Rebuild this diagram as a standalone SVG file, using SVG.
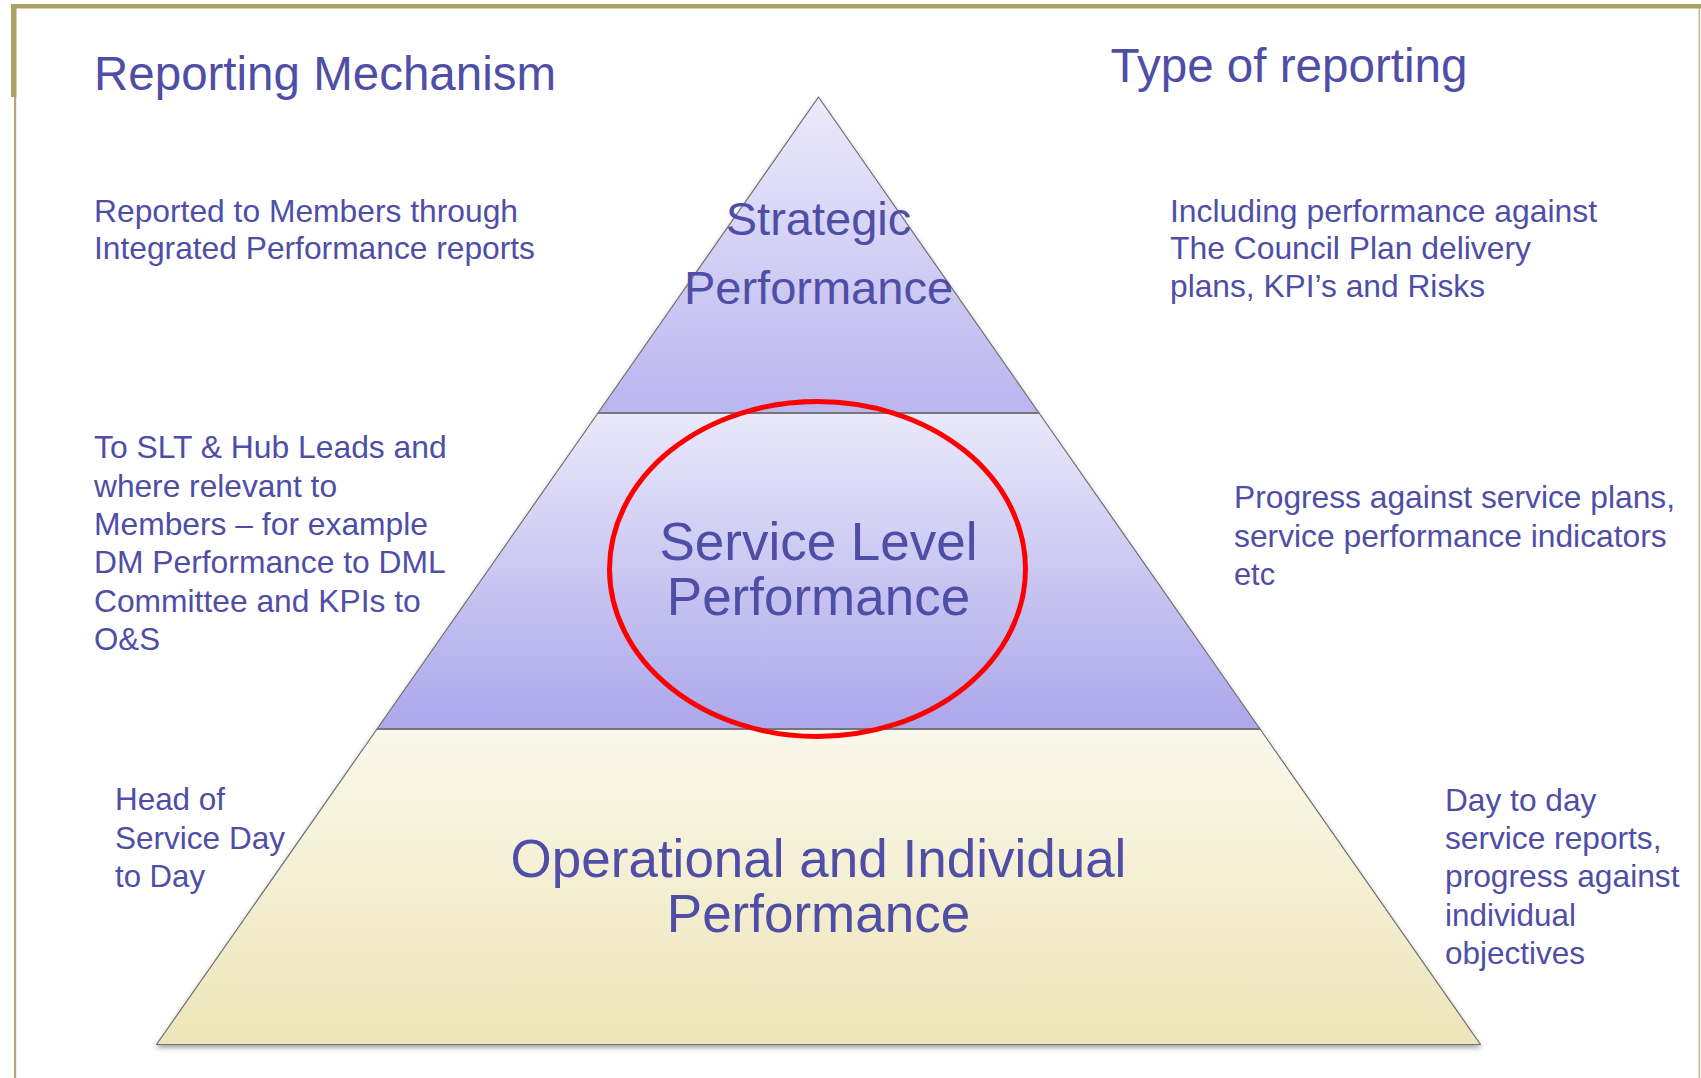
<svg xmlns="http://www.w3.org/2000/svg" width="1701" height="1078" viewBox="0 0 1701 1078">
  <style>
    .txt { font-family: "Liberation Sans", Arial, sans-serif; fill: #4F4EA7; }
    .title { font-size: 48px; }
    .body { font-size: 31.5px; }
    .tier { font-size: 53px; text-anchor: middle; }
    .tier-top { font-size: 47px; text-anchor: middle; }
    .edge { stroke: #707070; stroke-width: 1.2; stroke-linejoin: round; }
    .divider { stroke: #767676; stroke-width: 2.2; }
  </style>
  <defs>
    <linearGradient id="gTop" x1="0" y1="97" x2="0" y2="413" gradientUnits="userSpaceOnUse">
      <stop offset="0" stop-color="#ECEAFB"/>
      <stop offset="1" stop-color="#BAB5EF"/>
    </linearGradient>
    <linearGradient id="gMid" x1="0" y1="413" x2="0" y2="729" gradientUnits="userSpaceOnUse">
      <stop offset="0" stop-color="#EAE8FA"/>
      <stop offset="1" stop-color="#ABA7EB"/>
    </linearGradient>
    <linearGradient id="gBot" x1="0" y1="729" x2="0" y2="1045" gradientUnits="userSpaceOnUse">
      <stop offset="0" stop-color="#FAF8EC"/>
      <stop offset="1" stop-color="#EEE5B8"/>
    </linearGradient>
    <filter id="shadow" x="-5%" y="-5%" width="110%" height="112%">
      <feDropShadow dx="0" dy="3" stdDeviation="2.5" flood-color="#000" flood-opacity="0.35"/>
    </filter>
  </defs>

  <rect x="0" y="0" width="1701" height="1078" fill="#FFFFFF"/>

  <!-- slide frame -->
  <g id="frame">
    <rect x="11" y="4" width="1690" height="4.5" fill="#ADA064"/>
    <rect x="11" y="4" width="5.5" height="93" fill="#ADA064"/>
    <rect x="14" y="97" width="2.2" height="981" fill="#B5A86C"/>
    <rect x="1698.5" y="8" width="1.6" height="1070" fill="#C2B88A"/>
  </g>

  <!-- pyramid tiers -->
  <g id="pyramid" filter="url(#shadow)">
    <g id="tier-strategic">
      <polygon points="818.5,97 598,413 1039,413" fill="url(#gTop)" class="edge"/>
    </g>
    <g id="tier-service">
      <polygon points="598,413 1039,413 1260,729 377,729" fill="url(#gMid)" class="edge"/>
    </g>
    <g id="tier-operational">
      <polygon points="377,729 1260,729 1480.5,1044.5 156.5,1044.5" fill="url(#gBot)" class="edge"/>
    </g>
  </g>
  <g id="connectors">
    <line x1="598" y1="413" x2="1039" y2="413" class="divider"/>
    <line x1="377" y1="729" x2="1260" y2="729" class="divider"/>
  </g>

  <!-- tier labels -->
  <g id="label-strategic" class="txt tier-top">
    <text x="818.5" y="235">Strategic</text>
    <text x="818.5" y="304">Performance</text>
  </g>
  <g id="label-service" class="txt tier">
    <text x="818.5" y="560">Service Level</text>
    <text x="818.5" y="615">Performance</text>
  </g>
  <g id="label-operational" class="txt tier">
    <text x="818.5" y="876.5">Operational and Individual</text>
    <text x="818.5" y="931.5">Performance</text>
  </g>

  <!-- highlight ring round the service tier -->
  <g id="highlight">
    <ellipse cx="817.5" cy="569" rx="208" ry="167.5" fill="none" stroke="#FF0000" stroke-width="5"/>
  </g>

  <!-- column headings -->
  <g id="heading-mechanism" class="txt title">
    <text x="94" y="89.5" textLength="462" lengthAdjust="spacingAndGlyphs">Reporting Mechanism</text>
  </g>
  <g id="heading-type" class="txt title">
    <text x="1110.5" y="81.7" style="font-size:47.5px" textLength="357" lengthAdjust="spacingAndGlyphs">Type of reporting</text>
  </g>

  <!-- reporting mechanism notes -->
  <g id="mechanism-strategic" class="txt body">
    <text x="94" y="221.7" textLength="424" lengthAdjust="spacingAndGlyphs">Reported to Members through</text>
    <text x="94" y="259.2" textLength="441" lengthAdjust="spacingAndGlyphs">Integrated Performance reports</text>
  </g>
  <g id="mechanism-service" class="txt body">
    <text x="94" y="458.3" textLength="352.7" lengthAdjust="spacingAndGlyphs">To SLT &amp; Hub Leads and</text>
    <text x="94" y="496.6" textLength="243" lengthAdjust="spacingAndGlyphs">where relevant to</text>
    <text x="94" y="534.9" textLength="334" lengthAdjust="spacingAndGlyphs">Members – for example</text>
    <text x="94" y="573.2" textLength="351.7" lengthAdjust="spacingAndGlyphs">DM Performance to DML</text>
    <text x="94" y="611.5" textLength="326.7" lengthAdjust="spacingAndGlyphs">Committee and KPIs to</text>
    <text x="94" y="649.8" textLength="66" lengthAdjust="spacingAndGlyphs">O&amp;S</text>
  </g>
  <g id="mechanism-operational" class="txt body">
    <text x="115" y="810" textLength="110" lengthAdjust="spacingAndGlyphs">Head of</text>
    <text x="115" y="849" textLength="170" lengthAdjust="spacingAndGlyphs">Service Day</text>
    <text x="115" y="887" textLength="90" lengthAdjust="spacingAndGlyphs">to Day</text>
  </g>

  <!-- type of reporting notes -->
  <g id="type-strategic" class="txt body">
    <text x="1170" y="221.7" textLength="427" lengthAdjust="spacingAndGlyphs">Including performance against</text>
    <text x="1170" y="259.3" textLength="361" lengthAdjust="spacingAndGlyphs">The Council Plan delivery</text>
    <text x="1170" y="296.7" textLength="315" lengthAdjust="spacingAndGlyphs">plans, KPI’s and Risks</text>
  </g>
  <g id="type-service" class="txt body">
    <text x="1234" y="508.3" textLength="441" lengthAdjust="spacingAndGlyphs">Progress against service plans,</text>
    <text x="1234" y="546.7" textLength="432.7" lengthAdjust="spacingAndGlyphs">service performance indicators</text>
    <text x="1234" y="585" textLength="41" lengthAdjust="spacingAndGlyphs">etc</text>
  </g>
  <g id="type-operational" class="txt body">
    <text x="1445" y="810.5" textLength="151.4" lengthAdjust="spacingAndGlyphs">Day to day</text>
    <text x="1445" y="848.5" textLength="216.5" lengthAdjust="spacingAndGlyphs">service reports,</text>
    <text x="1445" y="887" textLength="234.5" lengthAdjust="spacingAndGlyphs">progress against</text>
    <text x="1445" y="925.5" textLength="131" lengthAdjust="spacingAndGlyphs">individual</text>
    <text x="1445" y="964" textLength="140" lengthAdjust="spacingAndGlyphs">objectives</text>
  </g>
</svg>
